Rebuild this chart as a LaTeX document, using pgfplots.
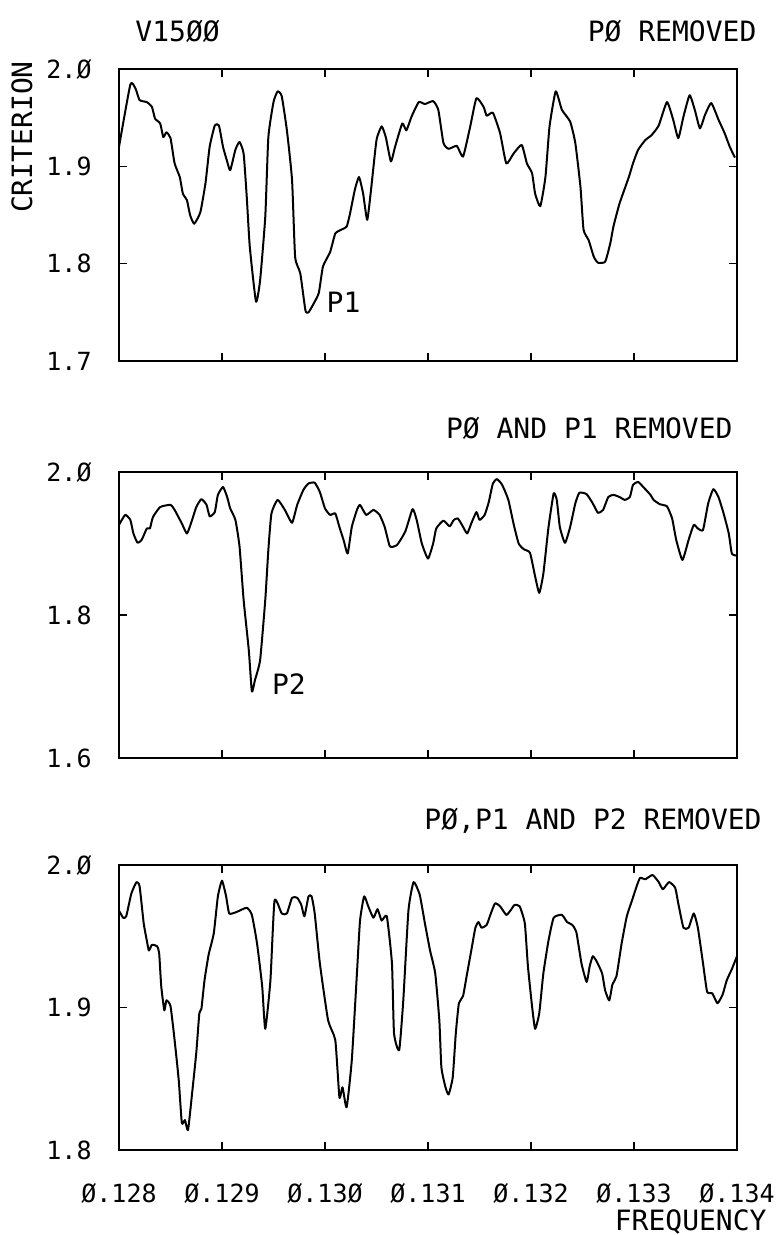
\documentclass[border=0pt]{standalone}
\usepackage{fontspec}
\setmainfont{DejaVu Sans Mono}
\usepackage{pgfplots}
\usepackage{pgfplotstable}
\pgfplotsset{compat=1.18}

% criterion vs frequency
\pgfplotstableread{
f c
0.12800 1.920
0.12811 1.984
0.12816 1.980
0.12820 1.968
0.12827 1.966
0.12832 1.961
0.12835 1.949
0.12840 1.944
0.12843 1.930
0.12846 1.935
0.12850 1.929
0.12854 1.903
0.12859 1.889
0.12862 1.872
0.12866 1.865
0.12869 1.850
0.12873 1.841
0.12879 1.853
0.12884 1.883
0.12888 1.920
0.12893 1.942
0.12897 1.942
0.12901 1.920
0.12905 1.905
0.12908 1.896
0.12913 1.917
0.12917 1.925
0.12921 1.913
0.12924 1.869
0.12927 1.817
0.12933 1.761
0.12937 1.783
0.12942 1.848
0.12945 1.930
0.12950 1.966
0.12954 1.977
0.12958 1.972
0.12963 1.937
0.12968 1.886
0.12971 1.807
0.12976 1.790
0.12981 1.752
0.12984 1.750
0.12989 1.759
0.12994 1.770
0.12998 1.797
0.13005 1.812
0.13010 1.831
0.13016 1.835
0.13021 1.838
0.13024 1.850
0.13029 1.876
0.13033 1.889
0.13037 1.872
0.13041 1.845
0.13045 1.879
0.13050 1.927
0.13055 1.941
0.13059 1.930
0.13064 1.905
0.13068 1.920
0.13075 1.944
0.13079 1.937
0.13084 1.951
0.13091 1.966
0.13097 1.964
0.13105 1.967
0.13110 1.958
0.13115 1.924
0.13120 1.918
0.13128 1.921
0.13134 1.910
0.13141 1.941
0.13147 1.970
0.13154 1.961
0.13157 1.952
0.13163 1.955
0.13170 1.934
0.13176 1.903
0.13183 1.913
0.13191 1.922
0.13196 1.903
0.13201 1.893
0.13204 1.872
0.13209 1.859
0.13214 1.889
0.13218 1.941
0.13224 1.977
0.13230 1.958
0.13238 1.946
0.13243 1.924
0.13248 1.879
0.13251 1.835
0.13256 1.824
0.13261 1.807
0.13265 1.801
0.13272 1.802
0.13277 1.821
0.13280 1.838
0.13286 1.862
0.13295 1.889
0.13299 1.903
0.13304 1.917
0.13311 1.927
0.13317 1.932
0.13324 1.942
0.13332 1.966
0.13338 1.948
0.13343 1.929
0.13348 1.951
0.13354 1.973
0.13359 1.958
0.13364 1.939
0.13369 1.953
0.13375 1.965
0.13382 1.948
0.13388 1.934
0.13393 1.920
0.13398 1.909
}\pzero

\pgfplotstableread{
f c
0.12800 1.926
0.12806 1.940
0.12811 1.933
0.12814 1.914
0.12818 1.901
0.12822 1.905
0.12827 1.921
0.12830 1.921
0.12833 1.937
0.12840 1.951
0.12850 1.954
0.12854 1.947
0.12861 1.928
0.12866 1.914
0.12871 1.933
0.12875 1.951
0.12880 1.962
0.12885 1.954
0.12888 1.938
0.12893 1.944
0.12896 1.968
0.12901 1.979
0.12905 1.965
0.12908 1.949
0.12913 1.933
0.12917 1.896
0.12921 1.821
0.12926 1.751
0.12929 1.693
0.12932 1.709
0.12937 1.737
0.12942 1.821
0.12945 1.891
0.12948 1.942
0.12954 1.961
0.12961 1.947
0.12968 1.929
0.12973 1.954
0.12979 1.975
0.12984 1.984
0.12990 1.985
0.12995 1.972
0.13000 1.949
0.13005 1.940
0.13010 1.942
0.13014 1.923
0.13018 1.905
0.13022 1.886
0.13026 1.923
0.13031 1.947
0.13034 1.954
0.13040 1.940
0.13047 1.947
0.13053 1.940
0.13058 1.923
0.13063 1.896
0.13070 1.898
0.13078 1.917
0.13085 1.948
0.13089 1.933
0.13094 1.900
0.13100 1.879
0.13105 1.900
0.13108 1.921
0.13115 1.932
0.13121 1.924
0.13125 1.933
0.13129 1.935
0.13133 1.926
0.13138 1.914
0.13142 1.928
0.13147 1.944
0.13150 1.933
0.13155 1.940
0.13159 1.958
0.13163 1.984
0.13167 1.990
0.13172 1.982
0.13178 1.961
0.13183 1.928
0.13188 1.900
0.13193 1.892
0.13199 1.887
0.13204 1.854
0.13208 1.831
0.13212 1.858
0.13217 1.923
0.13222 1.970
0.13225 1.961
0.13228 1.923
0.13233 1.901
0.13238 1.923
0.13243 1.956
0.13247 1.971
0.13254 1.969
0.13260 1.956
0.13265 1.943
0.13270 1.947
0.13275 1.965
0.13280 1.968
0.13286 1.965
0.13291 1.961
0.13296 1.965
0.13299 1.982
0.13304 1.986
0.13309 1.979
0.13316 1.968
0.13319 1.961
0.13325 1.955
0.13332 1.952
0.13337 1.935
0.13341 1.905
0.13347 1.877
0.13353 1.905
0.13358 1.926
0.13362 1.921
0.13367 1.919
0.13372 1.956
0.13377 1.976
0.13382 1.965
0.13387 1.942
0.13392 1.914
0.13395 1.886
0.13400 1.883
}\pone

\pgfplotstableread{
f c
0.12800 1.968
0.12804 1.963
0.12807 1.964
0.12812 1.980
0.12817 1.988
0.12820 1.985
0.12824 1.959
0.12827 1.947
0.12829 1.940
0.12832 1.944
0.12837 1.943
0.12839 1.938
0.12841 1.915
0.12844 1.898
0.12846 1.905
0.12850 1.901
0.12854 1.877
0.12858 1.849
0.12861 1.819
0.12864 1.821
0.12867 1.814
0.12871 1.840
0.12875 1.868
0.12878 1.896
0.12880 1.899
0.12883 1.919
0.12887 1.937
0.12892 1.952
0.12896 1.978
0.12900 1.989
0.12904 1.978
0.12907 1.966
0.12914 1.967
0.12924 1.970
0.12929 1.965
0.12934 1.945
0.12939 1.915
0.12942 1.885
0.12947 1.919
0.12951 1.975
0.12958 1.966
0.12963 1.966
0.12968 1.977
0.12973 1.977
0.12977 1.972
0.12980 1.964
0.12984 1.978
0.12987 1.978
0.12990 1.966
0.12995 1.931
0.13003 1.891
0.13010 1.877
0.13014 1.837
0.13017 1.844
0.13021 1.830
0.13026 1.863
0.13031 1.924
0.13034 1.961
0.13038 1.978
0.13042 1.971
0.13047 1.963
0.13051 1.969
0.13055 1.961
0.13060 1.964
0.13065 1.931
0.13067 1.882
0.13072 1.870
0.13076 1.905
0.13081 1.968
0.13086 1.988
0.13092 1.979
0.13097 1.959
0.13102 1.940
0.13107 1.924
0.13111 1.891
0.13113 1.858
0.13117 1.844
0.13120 1.839
0.13124 1.851
0.13127 1.882
0.13130 1.903
0.13134 1.908
0.13138 1.924
0.13142 1.940
0.13146 1.956
0.13149 1.960
0.13152 1.956
0.13157 1.958
0.13160 1.964
0.13165 1.973
0.13170 1.971
0.13176 1.965
0.13180 1.968
0.13184 1.972
0.13189 1.971
0.13194 1.959
0.13197 1.929
0.13201 1.901
0.13204 1.885
0.13208 1.896
0.13212 1.924
0.13217 1.947
0.13222 1.963
0.13230 1.965
0.13235 1.960
0.13240 1.958
0.13244 1.953
0.13249 1.931
0.13254 1.918
0.13257 1.929
0.13260 1.936
0.13264 1.932
0.13269 1.924
0.13272 1.912
0.13276 1.905
0.13279 1.916
0.13283 1.922
0.13288 1.945
0.13293 1.964
0.13298 1.975
0.13303 1.986
0.13306 1.991
0.13311 1.990
0.13318 1.993
0.13324 1.988
0.13328 1.983
0.13334 1.988
0.13340 1.984
0.13343 1.973
0.13348 1.956
0.13353 1.956
0.13358 1.966
0.13362 1.956
0.13367 1.931
0.13371 1.911
0.13376 1.910
0.13381 1.903
0.13386 1.909
0.13390 1.919
0.13395 1.927
0.13400 1.936
}\ptwo

\pgfplotsset{
  panel/.style={
    scale only axis, width=309pt, anchor=south west,
    xmin=0.128, xmax=0.134,
    xtick={0.128,0.129,0.130,0.131,0.132,0.133,0.134},
    xticklabels={},
    tick align=inside, major tick length=4pt,
    axis line style={line width=0.7pt},
    every tick/.style={black, line width=0.7pt},
    tick label style={font=\fontsize{12.5}{14}\selectfont},
    yticklabel style={inner sep=0pt, xshift=-13.5pt},
    xticklabel style={inner sep=0pt, yshift=-16.5pt},
    clip mode=individual,
  },
  curve/.style={black, line width=1pt, line join=round, no marks, smooth, tension=0.3},
}

\begin{document}
\begin{tikzpicture}[font=\fontsize{14}{16}\selectfont]
\path[use as bounding box] (0pt,0pt) rectangle (388.5pt,-617.5pt);

\begin{axis}[panel, at={(59.5pt,-180.5pt)}, height=146pt,
    ymin=1.7, ymax=2.0, ytick={1.7,1.8,1.9,2.0},
    yticklabels={1.7,1.8,1.9,2.Ø}]
  \addplot[curve] table[x=f, y=c] {\pzero};
  \node[inner sep=0pt] at (axis cs:0.13018,1.760) {P1};
  \node[anchor=west, inner sep=0pt] at (rel axis cs:0.026,1.130) {V15ØØ};
  \node[anchor=east, inner sep=0pt] at (rel axis cs:1.032,1.130) {PØ REMOVED};
  \node[rotate=90, inner sep=0pt] at (rel axis cs:-0.157,0.767) {CRITERION};
\end{axis}

\begin{axis}[panel, at={(59.5pt,-379pt)}, height=143pt,
    ymin=1.6, ymax=2.0, ytick={1.6,1.8,2.0},
    yticklabels={1.6,1.8,2.Ø}]
  \addplot[curve] table[x=f, y=c] {\pone};
  \node[inner sep=0pt] at (axis cs:0.12965,1.7035) {P2};
  \node[anchor=east, inner sep=0pt] at (rel axis cs:0.9935,1.154) {PØ AND P1 REMOVED};
\end{axis}

\begin{axis}[panel, at={(59.5pt,-575pt)}, height=142.5pt,
    ymin=1.8, ymax=2.0, ytick={1.8,1.9,2.0},
    yticklabels={1.8,1.9,2.Ø},
    xticklabels={Ø.128,Ø.129,Ø.13Ø,Ø.131,Ø.132,Ø.133,Ø.134}]
  \addplot[curve] table[x=f, y=c] {\ptwo};
  \node[anchor=east, inner sep=0pt] at (rel axis cs:1.0405,1.154) {PØ,P1 AND P2 REMOVED};
  \node[anchor=base east, inner sep=0pt] at (rel axis cs:1.0485,-0.282) {FREQUENCY};
\end{axis}
\end{tikzpicture}
\end{document}
